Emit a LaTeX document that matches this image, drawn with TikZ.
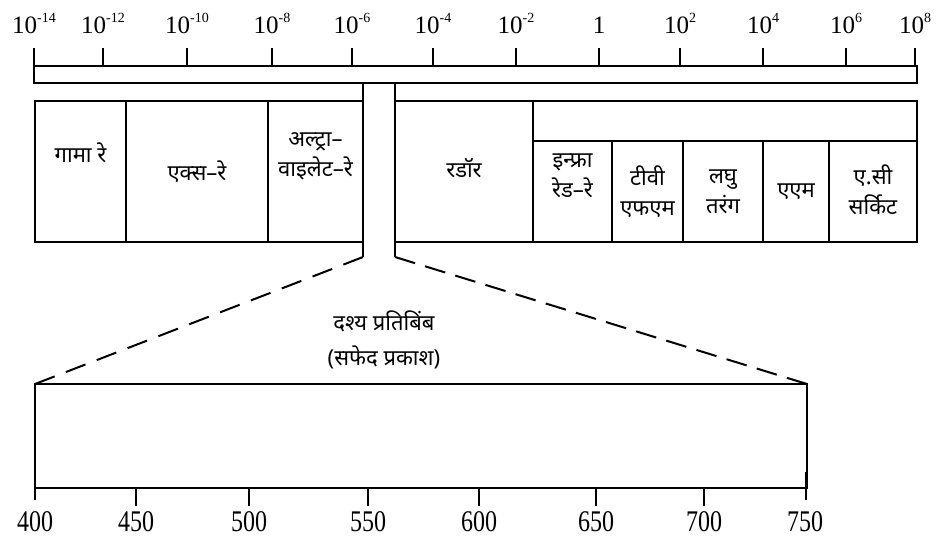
\documentclass[tikz,border=0pt]{standalone}
\usepackage{fontspec}
\setmainfont{Liberation Serif}
\newfontfamily\hindi[Script=Devanagari]{Noto Sans}
\usetikzlibrary{positioning}

\newcommand{\tenpow}[1]{10\raisebox{0.42em}{\fontsize{14}{14}\selectfont #1}}
\newcommand{\nm}[1]{\scalebox{0.8}[1]{#1}}

\begin{document}
\begin{tikzpicture}[x=1pt, y=-1pt, line width=2pt,
  cell/.style={draw, line width=2pt, inner sep=0pt, outer sep=0pt, anchor=north west, minimum height=141pt},
  subcell/.style={cell, minimum height=101pt},
  lbl/.style={font=\hindi\fontsize{22}{30}\selectfont, align=center},
  toplbl/.style={font=\fontsize{25}{25}\selectfont, anchor=base, inner sep=0pt},
  botlbl/.style={font=\fontsize{30}{30}\selectfont, anchor=base, inner sep=0pt},
  zoomline/.style={line width=2pt, dash pattern=on 21pt off #1},
  zoomline/.default=11pt
]
\useasboundingbox (0,0) rectangle (940,536);

% wavelength scale (m)
\node (bar) [cell, minimum width=883pt, minimum height=17pt] at (34,66) {};
\foreach \x/\t in {34/\tenpow{-14}, 103/\tenpow{-12}, 187/\tenpow{-10}, 272/\tenpow{-8},
    352/\tenpow{-6}, 433/\tenpow{-4}, 516/\tenpow{-2}, 599/1, 680/\tenpow{2},
    763/\tenpow{4}, 846/\tenpow{6}, 915/\tenpow{8}} {
  \draw (\x,48) -- (\x,66);
  \node (top\x) [toplbl] at (\x,33) {\t};
}

% spectrum bands
\node (gamma) [cell, minimum width=91pt] at (35,101) {};
\node (xray) [cell, minimum width=142pt, right=0pt of gamma] {};
\node (uv) [cell, minimum width=95pt, right=0pt of xray] {};
\node (radar) [cell, minimum width=138pt] at (395,101) {};
\node (strip) [cell, minimum width=384pt, minimum height=40pt] at (radar.north east) {};
\node (ir) [subcell, minimum width=79pt] at (strip.south west) {};
\node (tv) [subcell, minimum width=71pt, right=0pt of ir] {};
\node (sw) [subcell, minimum width=80pt, right=0pt of tv] {};
\node (am) [subcell, minimum width=66pt, right=0pt of sw] {};
\node (ac) [subcell, minimum width=88pt, right=0pt of am] {};

\node (gammatxt) [lbl] at ([yshift=19pt]gamma.center) {गामा रे};
\node (xraytxt) [lbl] at (xray.center) {एक्स–रे};
\node (uvtxt) [lbl] at ([yshift=15pt]uv.center) {अल्ट्रा–\\वाइलेट–रे};
\node (radartxt) [lbl] at ([yshift=3pt]radar.center) {रडॉर};
\node (irtxt) [lbl] at ([yshift=16pt]ir.center) {इन्फ्रा\\रेड–रे};
\node (tvtxt) [lbl] at (tv.center) {टीवी\\एफएम};
\node (swtxt) [lbl] at (sw.center) {लघु\\तरंग};
\node (amtxt) [lbl] at (am.center) {एएम};
\node (actxt) [lbl] at ([yshift=2pt]ac.center) {ए.सी\\सर्किट};

% visible part, spread out
\coordinate (gl) at (363,257);
\coordinate (gr) at (395,257);
\draw (uv.north east |- bar.south) -- (gl);
\draw (radar.north west |- bar.south) -- (gr);

\node (vis) [cell, minimum width=772pt, minimum height=104pt] at (35,384) {};
\draw [zoomline=12.07pt] (gl) -- (vis.north west);
\draw [zoomline=10.54pt] (gr) -- (vis.north east);
\node (vistxt) [lbl, font=\hindi\fontsize{22}{35}\selectfont] at (384,340) {दश्य प्रतिबिंब\\(सफेद प्रकाश)};

% wavelength in nm
\foreach \x/\n in {136/450, 249/500, 368/550, 479/600, 596/650, 704/700} {
  \draw (\x,488) -- (\x,506);
}
\draw [line width=2.8pt] (35,472) -- (35,500);
\draw [line width=2.8pt] (806,472) -- (806,500);
\foreach \x/\n in {35/400, 136/450, 249/500, 368/550, 479/600, 596/650, 704/700, 805/750} {
  \node (nm\n) [botlbl] at (\x,531) {\nm{\n}};
}
\end{tikzpicture}
\end{document}
